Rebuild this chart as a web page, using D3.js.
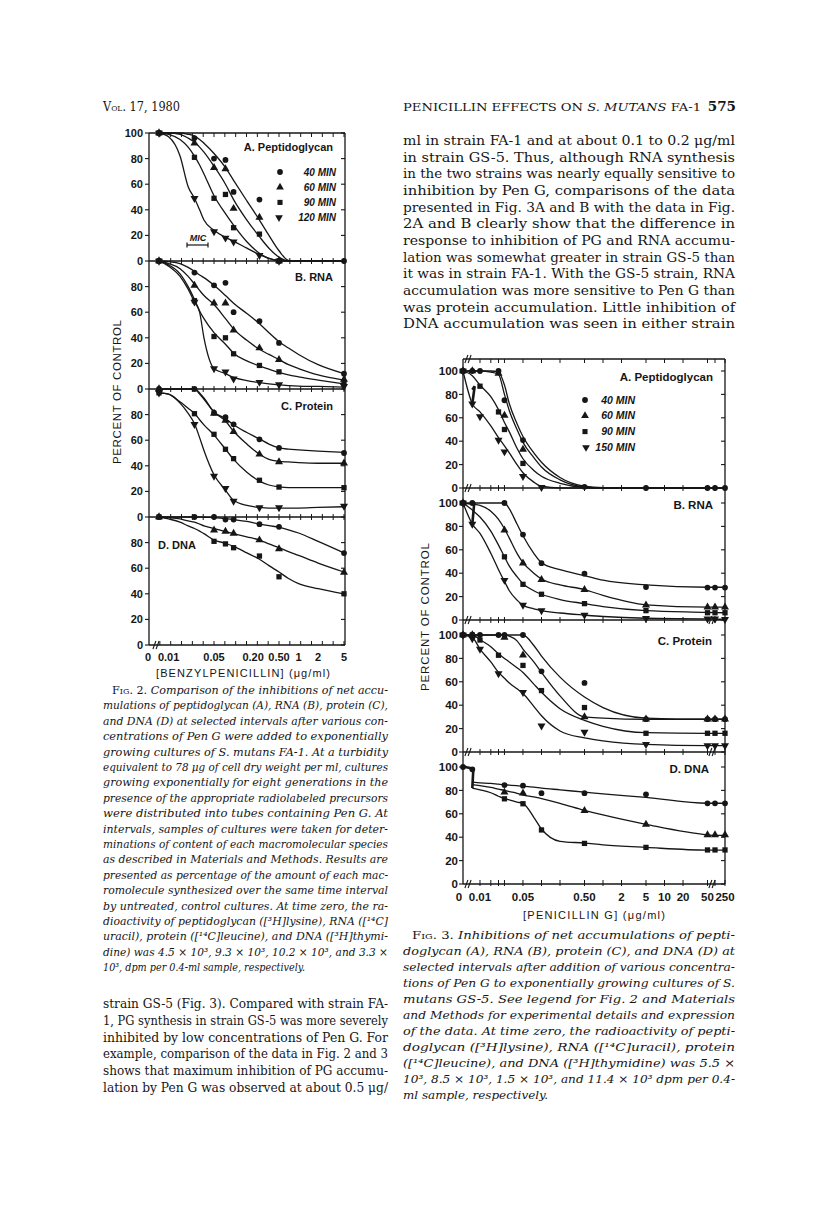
<!DOCTYPE html>
<html><head><meta charset="utf-8">
<script src="https://cdn.jsdelivr.net/npm/d3@7"></script>
<style>body{margin:0;background:#fff}</style>
</head><body>
<script>
// ================= DATA =================
// ---- Fig. 2 (strain FA-1) ----
const fig2Doses = [0, 0.025, 0.05, 0.075, 0.1, 0.25, 0.5, 5];
const fig2FitDoses = [0, 0.01, 0.015, 0.02, 0.025, 0.03, 0.035, 0.05, 0.075, 0.1, 0.16, 0.25, 0.35, 0.5, 0.7, 1, 2, 5];
const fig2Series = ["40 MIN", "60 MIN", "90 MIN", "120 MIN"];
const fig2Panels = ["A. Peptidoglycan", "B. RNA", "C. Protein", "D. DNA"];
const fig2XLabels = ["0", "0.01", "0.05", "0.20", "0.50", "1", "2", "5"];
const fig2XLabelDoses = [0, 0.01, 0.05, 0.2, 0.5, 1, 2, 5];

const f2A_40 = [100, 96, 80, 79, 54, 48, 0, 0];
const f2A_60 = [100, 92, 73, 72, 41, 34, 0, null];
const f2A_90 = [100, 81, 49, 52, 26, 21, 0, null];
const f2A_120 = [100, 49, 23, 18, 15, 4.5, 0, null];
const f2A_40fit = [100, 100, 100, 99, 97.5, 95, 92, 84, 73, 63, 47, 32, 20, 8, 0.5, 0, 0, 0];
const f2A_60fit = [100, 100, 99, 96, 93, 89, 85, 74, 60, 48, 32, 19, 10, 3, 0, 0, 0, 0];
const f2A_90fit = [100, 99, 95, 89, 82, 75, 68, 51, 37, 28, 15, 6, 2, 0.3, 0, 0, 0, 0];
const f2A_120fit = [100, 97, 82, 58, 49, 40, 32, 24, 18.5, 15.5, 10, 5, 2, 0.3, 0, 0, 0, 0];

const f2B_40 = [100, 91, 81, 83, 60, 53, 36, 12];
const f2B_60 = [100, 81, 67, 67, 46, 32, 23, 7.4];
const f2B_90 = [100, 69, 41, 40, 27.5, 18.4, 13.4, 4.7];
const f2B_120 = [100, 68, 16, 13.4, 8, 5.3, 3.4, 2];
const f2B_40fit = [100, 99.5, 98, 95, 92, 89, 87, 81, 73, 67, 59, 51, 44, 37, 32, 27, 19, 12];
const f2B_60fit = [100, 98, 94, 88, 82, 77, 73, 66, 55, 47, 38, 31, 27, 23, 19, 16, 11, 7];
const f2B_90fit = [100, 97, 90, 80, 70, 61, 55, 44, 35, 28, 22, 18, 15.5, 13, 11, 9.5, 7, 4];
const f2B_120fit = [100, 96, 88, 78, 68, 60, 40, 16, 12, 9, 6.5, 5, 4, 3.2, 2.7, 2.3, 2, 1.5];

const f2C_40 = [100, 100, 81.5, 78, 72.4, 60.7, 54, 50];
const f2C_60 = [100, null, 81, 75.5, 66.6, 49, 43, 42];
const f2C_90 = [97, 80.7, 64.6, 52.9, 45.6, 28.7, 23.4, 22.9];
const f2C_120 = [97, 72.4, 32, 22.4, 12.5, 7.3, 7.3, 8.5];
const f2C_40fit = [100, 100, 100, 100, 100, 97, 93, 82, 77, 72, 66, 61, 57, 54, 53, 52.5, 51.5, 50.5];
const f2C_60fit = [100, 100, 100, 100, 100, 96, 92, 82, 75, 67, 57, 49, 45, 43.5, 43, 42.5, 42, 42];
const f2C_90fit = [97, 96, 90, 85, 81, 76, 72, 64, 53, 45, 35, 28, 25, 23.5, 23, 23, 23, 23];
const f2C_120fit = [97, 96, 89, 81, 73, 62, 52, 33, 21, 13, 9, 7.5, 7, 7, 7, 7, 7.5, 8];

const f2D_40 = [100, 100, 100, 98, 98, 94.4, 92.3, 71.8];
const f2D_60 = [100, null, 89.7, 88.7, 87.2, 82, 75, 56.7];
const f2D_90 = [100, null, 81, 79, 76, 69.5, 53.3, 40];
const f2D_40fit = [100, 100, 100, 100, 100, 100, 99.8, 99.5, 98.8, 98, 96.5, 94.5, 93.2, 92, 90, 87.5, 81, 72];
const f2D_60fit = [100, 99.5, 98.5, 97, 96, 94.5, 93, 91, 88.5, 87, 84.5, 82, 79, 76, 73, 70, 64, 57];
const f2D_90fit = [100, 98.5, 96, 93, 91, 89, 87, 82, 79.5, 77, 72, 67, 62, 57, 52, 48, 44, 40];

// ---- Fig. 3 (strain GS-5) ----
const fig3Doses = [0, 0.0075, 0.01, 0.02, 0.025, 0.05, 0.1, 0.5, 5, 50, 100, 250];
const fig3FitDoses = [0, 0.0075, 0.01, 0.015, 0.02, 0.025, 0.03, 0.04, 0.05, 0.075, 0.1, 0.2, 0.5, 1, 5, 50, 100, 250];
const fig3Series = ["40 MIN", "60 MIN", "90 MIN", "150 MIN"];
const fig3Panels = ["A. Peptidoglycan", "B. RNA", "C. Protein", "D. DNA"];
const fig3XLabels = ["0", "0.01", "0.05", "0.50", "2", "5", "10", "20", "50", "250"];
const fig3XLabelDoses = [0, 0.01, 0.05, 0.5, 2, 5, 10, 20, 50, 250];
const fig3TickDoses = [0.01, 0.015, 0.02, 0.025, 0.05, 0.1, 0.2, 0.5, 1, 2, 5, 10, 20, 50, 100, 250];

const f3A_40 = [100, 100, 100, 100, 75, 41, null, 1, 0, 0, 0, 0];
const f3A_60 = [100, 100, null, 98, 62, 33, null, null, null, null, null, null];
const f3A_90 = [100, null, 87, 65, 50, 21, null, null, null, null, null, null];
const f3A_150 = [100, 72, 61, 41, 31, 10, 0.5, null, null, null, null, null];
const f3A_40fit = [100, 100, 100, 100, 99, 88, 72, 55, 44, 30, 22, 9, 1.5, 0.3, 0, 0, 0, 0];
const f3A_60fit = [100, 100, 100, 99, 97, 80, 66, 50, 39, 26, 18, 7, 1, 0.2, 0, 0, 0, 0];
const f3A_90fit = [100, 96, 88, 78, 67, 56, 48, 34, 25, 15, 10, 4, 0.5, 0, 0, 0, 0, 0];
const f3A_150fit = [100, 72, 65, 53, 43, 36, 30, 20, 13, 5, 1.5, 0, 0, 0, 0, 0, 0, 0];
const f3A_kink = [[0.0075, 84], [0.0082, 87], [0.0075, 72]];

const f3B_40 = [100, 100, null, null, 100, 73, 48.6, 39.6, 28.2, 27.7, 27.7, 27.7];
const f3B_60 = [100, null, null, null, 76.8, 48.6, 34.5, 26, 12.7, 11, 11, 11];
const f3B_90 = [100, null, null, null, 54, 30.5, 22, 14, 8, 6.2, 6.2, 6.2];
const f3B_150 = [100, 82, null, null, 34, 12.7, 8, 4.2, 1.4, 1, 1, 0.5];
const f3B_40fit = [100, 100, 100, 100, 100, 100, 95, 82, 72, 57, 49, 43, 38, 34, 30, 28, 28, 28];
const f3B_60fit = [100, 99, 98, 93, 86, 78, 70, 57, 49, 40, 35, 30, 26, 21, 13, 11, 11, 11];
const f3B_90fit = [100, 94, 88, 76, 64, 54, 46, 37, 31, 25, 22, 17.5, 14, 11.5, 8, 6.5, 6.3, 6.2];
const f3B_150fit = [100, 82, 74, 57, 43, 33, 25, 17, 12.7, 9.5, 8, 6, 4.2, 3, 1.5, 1, 0.8, 0.5];
const f3B_kink = [[0.0081, 101], [0.0075, 82]];

const f3C_40 = [100, 100, 100, 100, 100, 100, 69, 59, 28, 28, 28, 28];
const f3C_60 = [100, 100, null, null, 98, 82.7, null, 30, 28, 28, 28, 28];
const f3C_90 = [100, 100, 95.7, 82.7, null, 74, 52.5, 38, 16, 16, 16, 16];
const f3C_150 = [100, 97, 88, 67, null, 51, 22.4, 17, 6.5, 5.5, 5.5, 5.5];
const f3C_40fit = [100, 100, 100, 100, 100, 100, 100, 100, 100, 91, 82, 64, 47, 38, 29, 28, 28, 28];
const f3C_60fit = [100, 100, 100, 100, 100, 100, 99, 95, 88, 77, 68, 48, 30, 29, 28, 28, 28, 28];
const f3C_90fit = [100, 100, 96, 90, 84, 80, 77, 72, 68, 58, 51, 37, 27, 22, 16.5, 16, 16, 16];
const f3C_150fit = [100, 98, 88, 77, 68, 63, 59, 54, 50, 39, 31, 18, 12, 9.5, 6.5, 5.5, 5.5, 5.5];

const f3D_40 = [100, 98, null, null, 84.6, 84, 77.6, 77.6, 76.7, 69, 69, 69];
const f3D_60 = [null, null, null, null, 78.4, 77.6, null, 62.7, 51, 42, 42, 42];
const f3D_90 = [null, null, null, null, 72.8, 68.6, 46.2, 34.7, 31.3, 29.1, 29.1, 29.1];
const f3D_40fit = [null, 87, 86.5, 86, 85.3, 84.8, 84.5, 84, 83.6, 82.8, 82, 80.5, 78.5, 77, 74, 69, 69, 69];
const f3D_60fit = [null, 85, 84, 82.5, 81, 80, 79, 77.5, 76, 74.5, 73, 69, 63, 59, 51, 42, 41.5, 41.5];
const f3D_90fit = [null, 82, 80.5, 78, 75, 73, 72, 70, 69, 57, 47, 36.5, 35, 33.5, 31.3, 29, 29, 29];
const f3D_kink = [[0, 100.5], [0.0078, 98.5], [0.0075, 82]];

// ---- Text ----
const headerLeft = "Vol. 17, 1980";
const headerTitleA = "PENICILLIN EFFECTS ON ";
const headerTitleB = "S. MUTANS";
const headerTitleC = " FA-1";
const pageNumber = "575";

const rightTopLines = [
  "ml in strain FA-1 and at about 0.1 to 0.2 μg/ml",
  "in strain GS-5. Thus, although RNA synthesis",
  "in the two strains was nearly equally sensitive to",
  "inhibition by Pen G, comparisons of the data",
  "presented in Fig. 3A and B with the data in Fig.",
  "2A and B clearly show that the difference in",
  "response to inhibition of PG and RNA accumu-",
  "lation was somewhat greater in strain GS-5 than",
  "it was in strain FA-1. With the GS-5 strain, RNA",
  "accumulation was more sensitive to Pen G than",
  "was protein accumulation. Little inhibition of",
  "DNA accumulation was seen in either strain"
];
const leftBottomLines = [
  "strain GS-5 (Fig. 3). Compared with strain FA-",
  "1, PG synthesis in strain GS-5 was more severely",
  "inhibited by low concentrations of Pen G. For",
  "example, comparison of the data in Fig. 2 and 3",
  "shows that maximum inhibition of PG accumu-",
  "lation by Pen G was observed at about 0.5 μg/"
];
const fig2Caption = [
  "Comparison of the inhibitions of net accu-",
  "mulations of peptidoglycan (A), RNA (B), protein (C),",
  "and DNA (D) at selected intervals after various con-",
  "centrations of Pen G were added to exponentially",
  "growing cultures of S. mutans FA-1. At a turbidity",
  "equivalent to 78 μg of cell dry weight per ml, cultures",
  "growing exponentially for eight generations in the",
  "presence of the appropriate radiolabeled precursors",
  "were distributed into tubes containing Pen G. At",
  "intervals, samples of cultures were taken for deter-",
  "minations of content of each macromolecular species",
  "as described in Materials and Methods. Results are",
  "presented as percentage of the amount of each mac-",
  "romolecule synthesized over the same time interval",
  "by untreated, control cultures. At time zero, the ra-",
  "dioactivity of peptidoglycan ([³H]lysine), RNA ([¹⁴C]",
  "uracil), protein ([¹⁴C]leucine), and DNA ([³H]thymi-",
  "dine) was 4.5 × 10³, 9.3 × 10³, 10.2 × 10³, and 3.3 ×",
  "10³, dpm per 0.4-ml sample, respectively."
];
const fig3Caption = [
  "Inhibitions of net accumulations of pepti-",
  "doglycan (A), RNA (B), protein (C), and DNA (D) at",
  "selected intervals after addition of various concentra-",
  "tions of Pen G to exponentially growing cultures of S.",
  "mutans GS-5. See legend for Fig. 2 and Materials",
  "and Methods for experimental details and expression",
  "of the data. At time zero, the radioactivity of pepti-",
  "doglycan ([³H]lysine), RNA ([¹⁴C]uracil), protein",
  "([¹⁴C]leucine), and DNA ([³H]thymidine) was 5.5 ×",
  "10³, 8.5 × 10³, 1.5 × 10³, and 11.4 × 10³ dpm per 0.4-",
  "ml sample, respectively."
];

// ================= DRAWING =================
const INK = "#161616";
const SANS = "'Liberation Sans', Arial, sans-serif";
const SERIF = "'DejaVu Serif', serif";
const svg = d3.select("body").append("svg").attr("width", 816).attr("height", 1217);
svg.append("rect").attr("width", 816).attr("height", 1217).attr("fill", "#fff");

const shapes = ["circle", "triangle", "square", "down"];
function symPath(shape, size) {
  const t = {circle: d3.symbolCircle, triangle: d3.symbolTriangle, square: d3.symbolSquare, down: d3.symbolTriangle}[shape];
  return d3.symbol().type(t).size(size)();
}
function marker(g, shape, x, y, size) {
  g.append("path").attr("d", symPath(shape, size))
    .attr("transform", `translate(${x},${y})` + (shape === "down" ? " rotate(180)" : ""))
    .attr("fill", INK);
}
function drawSeries(g, X, Y, fitDoses, fitVals, markDoses, markVals, shape) {
  const pts = fitDoses.map((d, i) => [d, fitVals[i]]).filter(p => p[1] != null);
  g.append("path")
    .attr("d", d3.line().x(p => X(p[0])).y(p => Y(p[1])).curve(d3.curveMonotoneX)(pts))
    .attr("fill", "none").attr("stroke", INK).attr("stroke-width", 1.3);
  markDoses.forEach((d, i) => {
    const v = markVals[i];
    if (v == null) return;
    marker(g, shape, X(d), Y(v), shape === "circle" ? 26 : 28);
  });
}
function hline(g, x1, x2, y, w) {
  g.append("line").attr("x1", x1).attr("x2", x2).attr("y1", y).attr("y2", y)
    .attr("stroke", INK).attr("stroke-width", w || 1.3);
}
function vline(g, x, y1, y2, w) {
  g.append("line").attr("x1", x).attr("x2", x).attr("y1", y1).attr("y2", y2)
    .attr("stroke", INK).attr("stroke-width", w || 1.3);
}
function breakMark(g, x, y) {
  [-1.6, 1.6].forEach(o => {
    g.append("line").attr("x1", x + o - 1.5).attr("x2", x + o + 1.5).attr("y1", y + 4).attr("y2", y - 4)
      .attr("stroke", INK).attr("stroke-width", 1.1);
  });
}

// ---------- FIG 2 ----------
(function () {
  const g = svg.append("g");
  const left = 149, right = 345, H = 128;
  const tops = [133, 261, 389, 517];
  const bottom = tops[3] + H;
  const xl = d3.scaleLog().domain([0.01, 5]).range([168.6, 344]);
  const X = d => d === 0 ? 159 : xl(d);
  const Ys = tops.map(t => d3.scaleLinear().domain([0, 100]).range([t + H, t]));

  vline(g, left, tops[0], bottom);
  vline(g, right, tops[0], bottom);
  const hl = [tops[0], tops[1], tops[2], tops[3], bottom];
  hl.forEach(y => hline(g, left, right, y));
  const tickDoses = d3.range(-5, 13).map(k => 0.05 * Math.pow(10, k / 6));
  hl.forEach((y, j) => {
    tickDoses.forEach(d => {
      const x = xl(d);
      const y1 = j === 0 ? y : y - 3, y2 = j === 4 ? y : y + 3;
      vline(g, x, j === 4 ? y - 4 : y1, j === 0 ? y + 4 : y2, 1);
    });
  });
  breakMark(g, 156, bottom);
  Ys.forEach((Y, p) => {
    d3.range(0, 101, 20).forEach(v => {
      if (v === 100 && p > 0) return;
      const y = Y(v);
      hline(g, left - 4, left, y, 1.1);
      hline(g, right - 4, right, y, 1.1);
      g.append("text").attr("x", 143).attr("y", y).attr("dy", "0.36em")
        .attr("text-anchor", "end").attr("font-family", SANS).attr("font-weight", "bold")
        .attr("font-size", 11).attr("fill", INK).text(v);
    });
  });
  fig2XLabels.forEach((lab, i) => {
    const d = fig2XLabelDoses[i];
    g.append("text").attr("x", d === 0 ? left - 1 : X(d)).attr("y", bottom + 16)
      .attr("text-anchor", "middle").attr("font-family", SANS).attr("font-weight", "bold")
      .attr("font-size", 11).attr("fill", INK).text(lab);
  });
  g.append("text").attr("x", 243).attr("y", 677).attr("text-anchor", "middle")
    .attr("font-family", SANS).attr("font-size", 11).attr("fill", INK)
    .attr("textLength", 174).attr("lengthAdjust", "spacing")
    .text("[BENZYLPENICILLIN]  (μg/ml)");
  g.append("text").attr("transform", "translate(121,392) rotate(-90)")
    .attr("text-anchor", "middle").attr("font-family", SANS).attr("font-size", 11.5)
    .attr("fill", INK).attr("textLength", 144).attr("lengthAdjust", "spacing")
    .text("PERCENT OF CONTROL");

  const data = [
    [[f2A_40, f2A_40fit], [f2A_60, f2A_60fit], [f2A_90, f2A_90fit], [f2A_120, f2A_120fit]],
    [[f2B_40, f2B_40fit], [f2B_60, f2B_60fit], [f2B_90, f2B_90fit], [f2B_120, f2B_120fit]],
    [[f2C_40, f2C_40fit], [f2C_60, f2C_60fit], [f2C_90, f2C_90fit], [f2C_120, f2C_120fit]],
    [[f2D_40, f2D_40fit], [f2D_60, f2D_60fit], [f2D_90, f2D_90fit]]
  ];
  data.forEach((panel, p) => panel.forEach((s, k) =>
    drawSeries(g, X, Ys[p], fig2FitDoses, s[1], fig2Doses, s[0], shapes[k])));

  const tpos = [[333, 151, "end"], [333, 281, "end"], [333, 410, "end"], [158, 549, "start"]];
  fig2Panels.forEach((t, i) => g.append("text").attr("x", tpos[i][0]).attr("y", tpos[i][1])
    .attr("text-anchor", tpos[i][2]).attr("font-family", SANS).attr("font-weight", "bold")
    .attr("font-size", 11).attr("fill", INK).text(t));
  fig2Series.forEach((s, i) => {
    const y = 172 + i * 15.2;
    marker(g, shapes[i], i === 3 ? 279 : 280, y, 26);
    g.append("text").attr("x", 336).attr("y", y).attr("dy", "0.35em").attr("text-anchor", "end")
      .attr("font-family", SANS).attr("font-weight", "bold").attr("font-style", "italic")
      .attr("font-size", 10).attr("fill", INK).text(s);
  });
  g.append("text").attr("x", 198).attr("y", 241).attr("text-anchor", "middle")
    .attr("font-family", SANS).attr("font-weight", "bold").attr("font-style", "italic")
    .attr("font-size", 9).attr("fill", INK).text("MIC");
  hline(g, 187, 208, 245, 1.2);
  vline(g, 187, 242.5, 247.5, 1.2);
  vline(g, 208, 242.5, 247.5, 1.2);
})();

// ---------- FIG 3 ----------
(function () {
  const g = svg.append("g");
  const left = 463, right = 725, frameTop = 359;
  const zeros = [488, 620, 752, 884];
  const xl = d3.scaleLog().domain([0.0075, 50, 100, 250]).range([472.3, 707.5, 715, 725]);
  const X = d => d === 0 ? left : xl(d);
  const Ys = zeros.map(z => d3.scaleLinear().domain([0, 100]).range([z, z - 117]));

  vline(g, left, frameTop, zeros[3]);
  vline(g, right, frameTop, zeros[3]);
  const hl = [frameTop].concat(zeros);
  hl.forEach(y => hline(g, left, right, y));
  hl.forEach((y, j) => {
    fig3TickDoses.forEach(d => {
      const x = xl(d);
      vline(g, x, j === 4 ? y - 4 : (j === 0 ? y : y - 3), j === 0 ? y + 4 : (j === 4 ? y + 2 : y + 3), 1);
    });
    breakMark(g, 468, y);
    if (j > 1) breakMark(g, 712, y);
  });
  Ys.forEach(Y => {
    d3.range(0, 101, 20).forEach(v => {
      const y = Y(v);
      hline(g, left - 4, left, y, 1.1);
      hline(g, right - 4, right, y, 1.1);
      g.append("text").attr("x", 458).attr("y", y).attr("dy", "0.36em")
        .attr("text-anchor", "end").attr("font-family", SANS).attr("font-weight", "bold")
        .attr("font-size", 11.5).attr("fill", INK).text(v);
    });
  });
  fig3XLabels.forEach((lab, i) => {
    const d = fig3XLabelDoses[i];
    g.append("text").attr("x", d === 0 ? left - 4 : X(d)).attr("y", 901)
      .attr("text-anchor", "middle").attr("font-family", SANS).attr("font-weight", "bold")
      .attr("font-size", 11.5).attr("fill", INK).text(lab);
  });
  g.append("text").attr("x", 594).attr("y", 919).attr("text-anchor", "middle")
    .attr("font-family", SANS).attr("font-size", 11).attr("fill", INK)
    .attr("textLength", 142).attr("lengthAdjust", "spacing")
    .text("[PENICILLIN G]  (μg/ml)");
  g.append("text").attr("transform", "translate(429,617) rotate(-90)")
    .attr("text-anchor", "middle").attr("font-family", SANS).attr("font-size", 11.5)
    .attr("fill", INK).attr("textLength", 148).attr("lengthAdjust", "spacing")
    .text("PERCENT OF CONTROL");

  const data = [
    [[f3A_40, f3A_40fit], [f3A_60, f3A_60fit], [f3A_90, f3A_90fit], [f3A_150, f3A_150fit]],
    [[f3B_40, f3B_40fit], [f3B_60, f3B_60fit], [f3B_90, f3B_90fit], [f3B_150, f3B_150fit]],
    [[f3C_40, f3C_40fit], [f3C_60, f3C_60fit], [f3C_90, f3C_90fit], [f3C_150, f3C_150fit]],
    [[f3D_40, f3D_40fit], [f3D_60, f3D_60fit], [f3D_90, f3D_90fit]]
  ];
  data.forEach((panel, p) => panel.forEach((s, k) =>
    drawSeries(g, X, Ys[p], fig3FitDoses, s[1], fig3Doses, s[0], shapes[k])));
  const kinks = [[f3A_kink, 0], [f3B_kink, 1], [f3D_kink, 3]];
  kinks.forEach(([pts, p]) => {
    g.append("path").attr("d", d3.line().x(q => X(q[0])).y(q => Ys[p](q[1]))(pts))
      .attr("fill", "none").attr("stroke", INK).attr("stroke-width", 2.6);
  });

  const tpos = [[713, 381], [713, 509], [712, 645], [709, 773]];
  fig3Panels.forEach((t, i) => g.append("text").attr("x", tpos[i][0]).attr("y", tpos[i][1])
    .attr("text-anchor", "end").attr("font-family", SANS).attr("font-weight", "bold")
    .attr("font-size", 11.5).attr("fill", INK).text(t));
  fig3Series.forEach((s, i) => {
    const y = 400 + i * 15.8;
    marker(g, shapes[i], i === 3 ? 586 : 585, y, 26);
    g.append("text").attr("x", 635).attr("y", y).attr("dy", "0.35em").attr("text-anchor", "end")
      .attr("font-family", SANS).attr("font-weight", "bold").attr("font-style", "italic")
      .attr("font-size", 10.5).attr("fill", INK).text(s);
  });
})();

// ---------- TEXT ----------
const leftCol = {x: 103, w: 285};
const rightCol = {x: 403, w: 332};

svg.append("text").attr("x", leftCol.x).attr("y", 111).attr("font-family", SERIF)
  .attr("font-size", 12).attr("font-variant", "small-caps").attr("fill", INK)
  .attr("textLength", 77).attr("lengthAdjust", "spacingAndGlyphs").text(headerLeft);
(function () {
  const t = svg.append("text").attr("x", 403).attr("y", 111).attr("font-family", SERIF)
    .attr("font-size", 11.5).attr("fill", INK).attr("textLength", 298).attr("lengthAdjust", "spacingAndGlyphs");
  t.append("tspan").text(headerTitleA);
  t.append("tspan").attr("font-style", "italic").text(headerTitleB);
  t.append("tspan").text(headerTitleC);
})();
svg.append("text").attr("x", 736).attr("y", 111).attr("text-anchor", "end")
  .attr("font-family", SERIF).attr("font-size", 13.5).attr("font-weight", "bold").attr("fill", INK)
  .text(pageNumber);

function bodyBlock(lines, col, y0, dy) {
  lines.forEach((ln, i) => {
    svg.append("text").attr("x", col.x).attr("y", y0 + i * dy)
      .attr("font-family", SERIF).attr("font-size", 12).attr("fill", INK)
      .attr("textLength", col.w).attr("lengthAdjust", "spacingAndGlyphs").text(ln);
  });
}
bodyBlock(rightTopLines, rightCol, 145, 16.67);
bodyBlock(leftBottomLines, leftCol, 1008, 16.8);

function captionBlock(num, lines, col, y0, dy, lastLen) {
  lines.forEach((ln, i) => {
    const indent = i === 0 ? 9 : 0;
    const t = svg.append("text").attr("x", col.x + indent).attr("y", y0 + i * dy)
      .attr("font-family", SERIF).attr("font-size", 11).attr("fill", INK)
      .attr("lengthAdjust", "spacingAndGlyphs");
    if (i === 0) {
      t.append("tspan").attr("font-variant", "small-caps").text("Fig.");
      t.append("tspan").text(" " + num + ". ");
    }
    t.append("tspan").attr("font-style", "italic").text(ln);
    t.attr("textLength", i < lines.length - 1 ? col.w - indent : lastLen);
  });
}
captionBlock(2, fig2Caption, leftCol, 694, 15.4, 202);
captionBlock(3, fig3Caption, rightCol, 939, 16, 145);
</script>
</body></html>
